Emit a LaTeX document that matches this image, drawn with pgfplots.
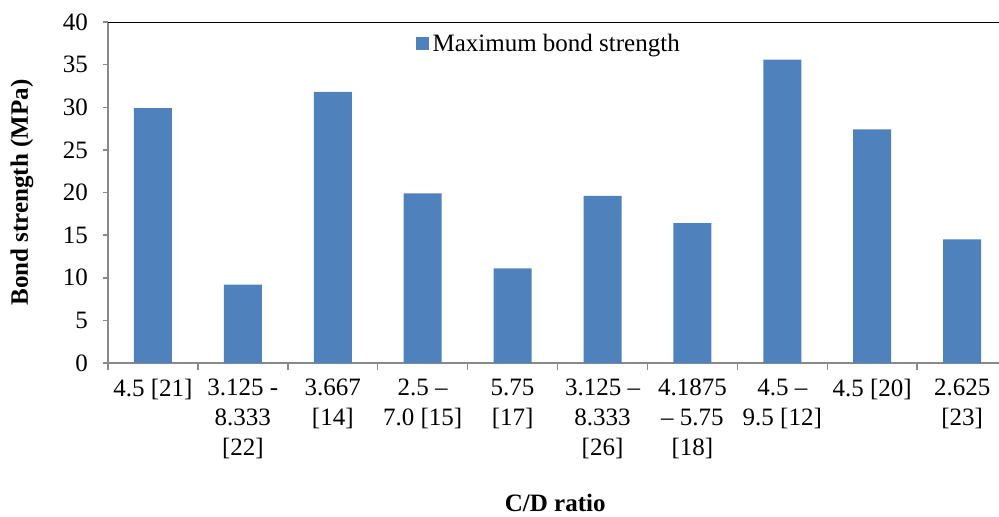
\documentclass[border=0pt]{standalone}
\usepackage{fontspec}
\setmainfont{Liberation Serif}
\usepackage{pgfplots}
\pgfplotsset{compat=1.18}
\definecolor{barblue}{HTML}{4F81BD}
\definecolor{axgray}{HTML}{898989}
\newcommand{\lbl}{\fontsize{12.5}{15}\selectfont}
\begin{document}
\begin{tikzpicture}
\begin{axis}[
  at={(0,0)}, anchor=south west,
  scale only axis, width=445.5pt, height=170.5pt,
  ybar, bar width=19pt,
  xmin=-0.5, xmax=9.41, ymin=0, ymax=40,
  axis lines=left,
  axis line style={-, axgray, line width=0.75pt},
  ytick={0,5,...,40},
  xtick={0,...,9},
  xticklabels={{4.5 [21]}, {3.125 -\\8.333\\{[22]}}, {3.667\\{[14]}}, {2.5 –\\7.0 [15]},
    {5.75\\{[17]}}, {3.125 –\\8.333\\{[26]}}, {4.1875\\– 5.75\\{[18]}}, {4.5 –\\9.5 [12]},
    {4.5 [20]}, {2.625\\{[23]}}},
  minor xtick={-0.5,0.5,...,8.5},
  tick align=outside,
  major tick length=2.5pt,
  minor tick length=3.5pt,
  major x tick style={draw=none},
  minor x tick style={axgray, line width=0.75pt},
  major y tick style={axgray, line width=0.75pt},
  /pgf/number format/assume math mode=true,
  ticklabel style={font=\lbl},
  yticklabel style={xshift=-4pt},
  xticklabel style={align=center, yshift=-2pt},
  xlabel={C/D ratio},
  ylabel={Bond strength (MPa)},
  xlabel style={font=\lbl\bfseries, at={(axis description cs:0.502,-0.41)}, anchor=center},
  ylabel style={font=\lbl\bfseries, at={(axis description cs:-0.0965,0.5)}, anchor=center},
  legend style={draw=none, fill=none, at={(axis description cs:0.338,0.99)}, anchor=north west,
    font=\lbl, legend cell align=left, nodes={inner sep=2pt}},
]
\addplot[fill=barblue, draw=none,
  legend image code/.code={\fill[barblue] (0pt,-3.25pt) rectangle (6.5pt,3.25pt);}]
  coordinates {(0,29.9) (1,9.2) (2,31.8) (3,19.9) (4,11.1) (5,19.6) (6,16.4) (7,35.6) (8,27.4) (9,14.5)};
\addlegendentry{Maximum bond strength}
\draw[black, line width=0.75pt] (rel axis cs:0,1) -- (rel axis cs:1,1);
\end{axis}
\pgfresetboundingbox
\useasboundingbox (-54pt,-76.5pt) rectangle (445.5pt,181.5pt);
\end{tikzpicture}
\end{document}
